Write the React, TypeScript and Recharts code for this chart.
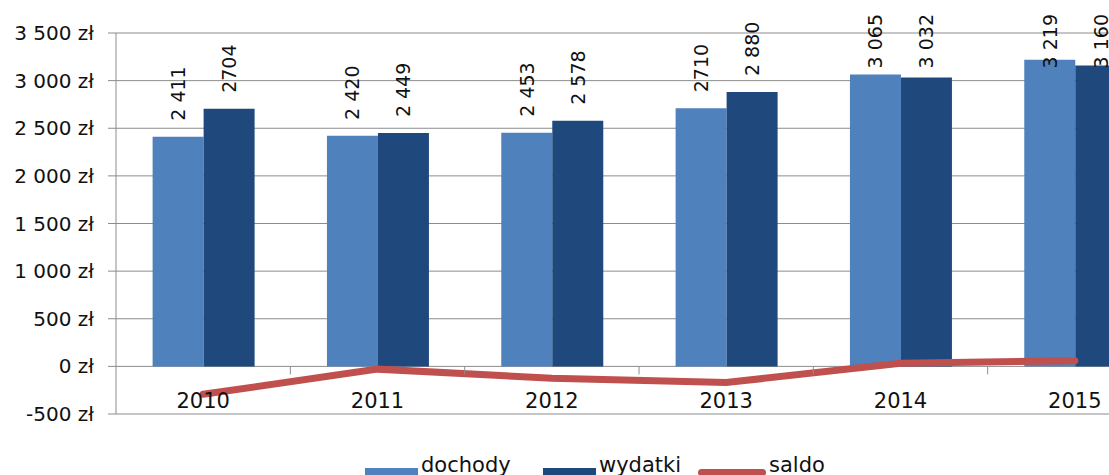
import {
  ComposedChart,
  Bar,
  Line,
  XAxis,
  YAxis,
  CartesianGrid,
  LabelList,
} from 'recharts'

const years = ['2010', '2011', '2012', '2013', '2014', '2015']
const dochody = [2411, 2420, 2453, 2710, 3065, 3219]
const wydatki = [2704, 2449, 2578, 2880, 3032, 3160]
const saldo = [-293, -29, -125, -170, 33, 59]
const dochodyLabels = ['2 411', '2 420', '2 453', '2710', '3 065', '3 219']
const wydatkiLabels = ['2704', '2 449', '2 578', '2 880', '3 032', '3 160']
const yTicks = [-500, 0, 500, 1000, 1500, 2000, 2500, 3000, 3500]

const rows = years.map((year, i) => ({
  year,
  dochody: dochody[i],
  wydatki: wydatki[i],
  saldo: saldo[i],
  dLabel: dochodyLabels[i],
  wLabel: wydatkiLabels[i],
}))

const FONT = 'DejaVu Sans'
const GRID = '#8c8c8c'
const colors = { dochody: '#4f81bd', wydatki: '#1f497d', saldo: '#c0504d' }

const W = 1166
const H = 475
const M = { top: 33, right: 4, bottom: 31, left: 0 }
const Y_W = 116
const X_H = 30
const plotW = W - M.left - M.right - Y_W
const plotH = H - M.top - M.bottom - X_H
const yMin = yTicks[0]
const yMax = yTicks[yTicks.length - 1]
const zeroOffset = (plotH * (0 - yMin)) / (yMax - yMin) // px from plot bottom to zero line
const step = plotW / years.length

const formatZl = (v: number) => {
  const s = Math.abs(v).toString().replace(/\B(?=(\d{3})+(?!\d))/g, ' ')
  return `${v < 0 ? '-' : ''}${s} zł`
}

const LABEL_SIZE = 19
const estWidth = (s: string) =>
  s.split('').reduce((w, c) => w + (c === ' ' ? 0.318 : 0.636) * LABEL_SIZE, 0)

const VerticalLabel = (props: any) => {
  const { x, y, width, value } = props
  const cx = x + width / 2
  // labels near the top get pushed down so they stay inside the chart
  const ty = Math.max(y - 16, 14 + estWidth(String(value)))
  return (
    <text
      x={cx}
      y={ty}
      transform={`rotate(-90 ${cx} ${ty})`}
      textAnchor="start"
      dominantBaseline="central"
      fontFamily={FONT}
      fontSize={LABEL_SIZE}
      fill="#111"
    >
      {value}
    </text>
  )
}

const YearTick = (props: any) => {
  const { x, payload, index } = props
  const bottom = M.top + plotH
  const zeroY = bottom - zeroOffset
  return (
    <g>
      <text x={x} y={bottom - 6} textAnchor="middle" fontFamily={FONT} fontSize={21} fill="#111">
        {payload.value}
      </text>
      {index < years.length - 1 && (
        <line x1={x + step / 2} x2={x + step / 2} y1={zeroY} y2={zeroY + 8} stroke={GRID} />
      )}
    </g>
  )
}

function Legend() {
  const items = [
    { name: 'dochody', color: colors.dochody, kind: 'rect', left: 365 },
    { name: 'wydatki', color: colors.wydatki, kind: 'rect', left: 543 },
    { name: 'saldo', color: colors.saldo, kind: 'line', left: 698 },
  ]
  return (
    <>
      {items.map((it) => (
        <div
          key={it.name}
          style={{
            position: 'absolute',
            left: it.left,
            top: 451,
            display: 'flex',
            alignItems: 'flex-start',
            fontFamily: FONT,
            fontSize: 21,
            color: '#111',
            lineHeight: '28px',
          }}
        >
          {it.kind === 'rect' ? (
            <div style={{ width: 53, height: 14, background: it.color, marginTop: 17 }} />
          ) : (
            <div style={{ width: 68, height: 7, borderRadius: 4, background: it.color, marginTop: 18 }} />
          )}
          <span style={{ marginLeft: 3 }}>{it.name}</span>
        </div>
      ))}
    </>
  )
}

export default function App() {
  return (
    <div
      style={{
        position: 'absolute',
        left: 0,
        top: 0,
        width: 1109,
        height: 475,
        overflow: 'hidden',
        background: '#fff',
      }}
    >
      <ComposedChart
        width={W}
        height={H}
        data={rows}
        margin={M}
        barGap={0}
        barCategoryGap="21%"
      >
        <CartesianGrid vertical={false} stroke={GRID} />
        <XAxis
          dataKey="year"
          height={X_H}
          axisLine={false}
          tickLine={false}
          tick={<YearTick />}
          interval={0}
        />
        <YAxis
          width={Y_W}
          domain={[yMin, yMax]}
          ticks={yTicks}
          interval={0}
          tickFormatter={formatZl}
          axisLine={{ stroke: GRID }}
          tickLine={{ stroke: GRID }}
          tickSize={8}
          tickMargin={14}
          tick={{ fontFamily: FONT, fontSize: 20, fill: '#111' }}
        />
        <Bar dataKey="dochody" fill={colors.dochody} isAnimationActive={false}>
          <LabelList dataKey="dLabel" content={<VerticalLabel />} />
        </Bar>
        <Bar dataKey="wydatki" fill={colors.wydatki} isAnimationActive={false}>
          <LabelList dataKey="wLabel" content={<VerticalLabel />} />
        </Bar>
        <Line
          type="linear"
          dataKey="saldo"
          stroke={colors.saldo}
          strokeWidth={7}
          strokeLinecap="round"
          dot={false}
          isAnimationActive={false}
        />
      </ComposedChart>
      <Legend />
    </div>
  )
}
